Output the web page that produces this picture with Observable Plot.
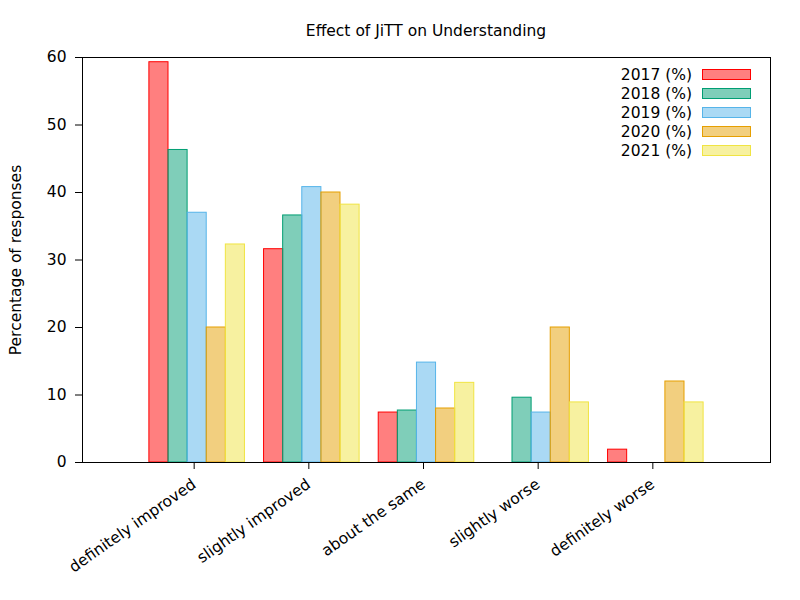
<!DOCTYPE html>
<html>
<head>
<meta charset="utf-8">
<script src="https://cdn.jsdelivr.net/npm/d3@7"></script>
<script src="https://cdn.jsdelivr.net/npm/@observablehq/plot@0.6"></script>
<style>
  body { margin: 0; background: white; font-family: "DejaVu Sans", sans-serif; }
  #wrap { position: relative; width: 800px; height: 600px; }
  #title { position: absolute; top: 22px; left: 82px; width: 688px; text-align: center; font-size: 15.5px; color: black; }
  #legend { position: absolute; top: 65px; right: 49px; font-size: 15.5px; color: black; }
  .row { display: flex; align-items: center; height: 19px; justify-content: flex-end; }
  .sw { width: 47px; height: 9px; margin-left: 10px; border: 1px solid; }
</style>
</head>
<body>
<div id="wrap">
  <div id="title">Effect of JiTT on Understanding</div>
  <div id="legend"></div>
</div>
<script>
const categories = ["definitely improved", "slightly improved", "about the same", "slightly worse", "definitely worse"];
const years = ["2017 (%)", "2018 (%)", "2019 (%)", "2020 (%)", "2021 (%)"];
const v2017 = [59.3, 31.6, 7.4, 0, 1.9];
const v2018 = [46.3, 36.6, 7.7, 9.6, 0];
const v2019 = [37.0, 40.8, 14.8, 7.4, 0];
const v2020 = [20.0, 40.0, 8.0, 20.0, 12.0];
const v2021 = [32.3, 38.2, 11.8, 8.9, 8.9];
const strokeColors = ["#ff0000", "#009e73", "#56b4e9", "#e69f00", "#f0e442"];
const yTicks = [0, 10, 20, 30, 40, 50, 60];

const series = [v2017, v2018, v2019, v2020, v2021];
const rows = [];
series.forEach((vals, yi) => {
  vals.forEach((v, ci) => {
    if (v > 0) rows.push({cat: ci, yi, year: years[yi], value: v});
  });
});
const n = years.length;
const bw = 1 / (n + 1);

const chart = Plot.plot({
  width: 800,
  height: 600,
  marginLeft: 82,
  marginRight: 30,
  marginTop: 57,
  marginBottom: 138,
  style: {fontFamily: "DejaVu Sans", fontSize: "15.5px", color: "black", background: "transparent"},
  x: {domain: [-1, 5]},
  y: {domain: [0, 60]},
  color: {domain: years, range: strokeColors},
  marks: [
    Plot.rectY(rows, {
      x1: d => d.cat + (d.yi - n / 2) * bw,
      x2: d => d.cat + (d.yi - n / 2 + 1) * bw,
      y1: 0,
      y2: "value",
      fill: "year",
      fillOpacity: 0.5,
      stroke: "year",
      strokeWidth: 1,
      insetLeft: 0, insetRight: 0
    }),
    Plot.axisY({ticks: yTicks, tickSize: 7, tickPadding: 9, fontSize: 15.5, label: "Percentage of responses", labelAnchor: "center", labelOffset: 73, labelArrow: "none"}),
    Plot.axisX({ticks: [0, 1, 2, 3, 4], tickFormat: i => categories[i], tickRotate: -35, tickSize: 7, tickPadding: 13, dx: -3, fontSize: 15.5, label: null}),
    Plot.frame({stroke: "black"})
  ]
});
document.getElementById("wrap").prepend(chart);
chart.style.position = "absolute";
chart.style.left = "0";
chart.style.top = "0";

const legend = document.getElementById("legend");
years.forEach((y, i) => {
  const r = document.createElement("div");
  r.className = "row";
  const t = document.createElement("span");
  t.textContent = y;
  const s = document.createElement("span");
  s.className = "sw";
  s.style.borderColor = strokeColors[i];
  s.style.background = d3.color(strokeColors[i]).copy({opacity: 0.5}).formatRgb();
  r.appendChild(t);
  r.appendChild(s);
  legend.appendChild(r);
});
</script>
</body>
</html>
